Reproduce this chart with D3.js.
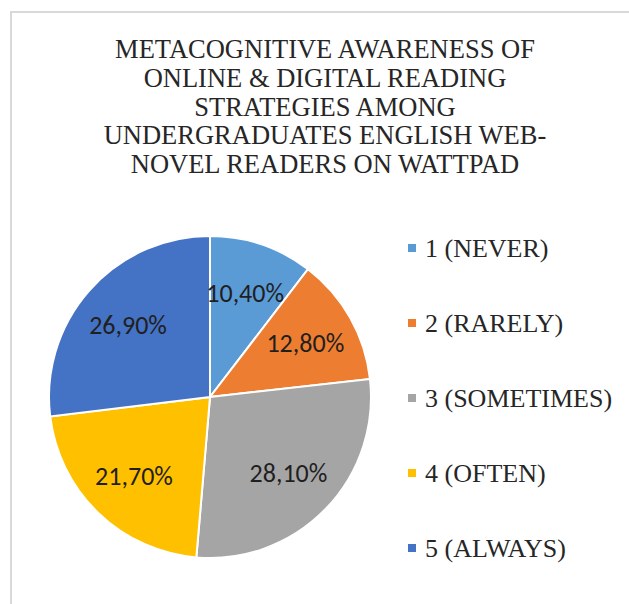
<!DOCTYPE html>
<html>
<head>
<meta charset="utf-8">
<script src="https://cdn.jsdelivr.net/npm/d3@7"></script>
<style>
  body { margin: 0; background: #fff; }
  svg { display: block; }
  .serif { font-family: 'Liberation Serif', 'Times New Roman', Times, 'DejaVu Serif', 'Noto Serif', 'Nimbus Roman', FreeSerif, serif; }
  .sans { font-family: Carlito, Lato, 'Liberation Sans', sans-serif; }
</style>
</head>
<body>
<div id="vis"></div>
<script>
// data
var categories = ['1 (NEVER)', '2 (RARELY)', '3 (SOMETIMES)', '4 (OFTEN)', '5 (ALWAYS)'];
var shares = [10.4, 12.8, 28.1, 21.7, 26.9];
var sliceLabels = ['10,40%', '12,80%', '28,10%', '21,70%', '26,90%'];
var colors = ['#5b9bd5', '#ed7d31', '#a5a5a5', '#ffc000', '#4472c4'];
var titleLines = [
    'METACOGNITIVE AWARENESS OF',
    'ONLINE & DIGITAL READING',
    'STRATEGIES AMONG',
    'UNDERGRADUATES ENGLISH WEB-',
    'NOVEL READERS ON WATTPAD'
];

var W = 629, H = 604;
var cx = 210, cy = 397, R = 161;

var svg = d3.select('#vis').append('svg')
    .attr('width', W)
    .attr('height', H);

svg.append('rect')
    .attr('width', W).attr('height', H)
    .attr('fill', '#fff');

// chart frame (right and bottom edges are off the picture)
svg.append('rect')
    .attr('x', 11).attr('y', 12)
    .attr('width', W + 20).attr('height', H + 20)
    .attr('fill', '#fff')
    .attr('stroke', '#d9d9d9')
    .attr('stroke-width', 2);

// title
svg.append('text')
    .attr('class', 'serif')
    .attr('text-anchor', 'middle')
    .attr('font-size', 26.5)
    .attr('fill', '#262626')
    .selectAll('tspan')
    .data(titleLines)
    .enter()
    .append('tspan')
    .attr('x', 325)
    .attr('y', function (d, i) { return 58 + i * 28.8; })
    .text(function (d) { return d; });

var data = categories.map(function (c, i) {
    return { name: c, value: shares[i], label: sliceLabels[i], color: colors[i] };
});

var pie = d3.pie()
    .sort(null)
    .value(function (d) { return d.value; });

var arc = d3.arc().innerRadius(0).outerRadius(R);
var labelArc = d3.arc().innerRadius(R * 0.68).outerRadius(R * 0.68);

var g = svg.append('g')
    .attr('transform', 'translate(' + cx + ',' + cy + ')');

var arcs = pie(data);

g.selectAll('path')
    .data(arcs)
    .enter()
    .append('path')
    .attr('d', arc)
    .attr('fill', function (d) { return d.data.color; })
    .attr('stroke', '#fff')
    .attr('stroke-width', 2);

g.selectAll('text')
    .data(arcs)
    .enter()
    .append('text')
    .attr('class', 'sans')
    .attr('transform', function (d) { return 'translate(' + labelArc.centroid(d) + ')'; })
    .attr('text-anchor', 'middle')
    .attr('dy', '0.35em')
    .attr('font-size', 26)
    .attr('fill', '#1f1f1f')
    .text(function (d) { return d.data.label; });

// legend
var legend = svg.append('g')
    .selectAll('g')
    .data(data)
    .enter()
    .append('g')
    .attr('transform', function (d, i) { return 'translate(408,' + (248 + i * 75) + ')'; });

legend.append('rect')
    .attr('x', 0).attr('y', -4)
    .attr('width', 8).attr('height', 8)
    .attr('fill', function (d) { return d.color; });

legend.append('text')
    .attr('class', 'serif')
    .attr('x', 17)
    .attr('dy', '0.35em')
    .attr('font-size', 26)
    .attr('fill', '#262626')
    .text(function (d) { return d.name; });
</script>
</body>
</html>
